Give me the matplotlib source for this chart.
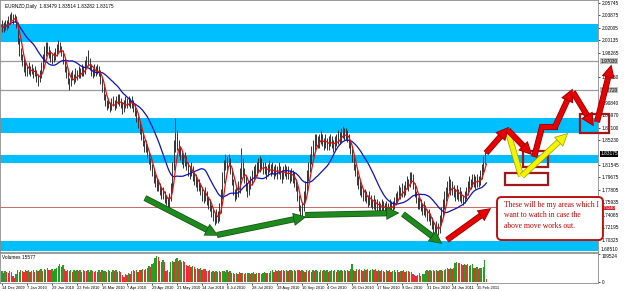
import numpy as np
import pandas as pd
import matplotlib
matplotlib.use("Agg")
import matplotlib.pyplot as plt
import matplotlib.patheffects as pe
from matplotlib.patches import Rectangle, FancyArrowPatch, FancyBboxPatch

# daily bars, EURNZD
closes = [
    2.023, 2.020, 2.026, 2.023, 2.029, 2.035, 2.038, 2.032, 2.035, 2.029,
    2.002, 1.984, 1.978, 1.969, 1.963, 1.957, 1.954, 1.960, 1.954, 1.957,
    1.951, 1.954, 1.945, 1.939, 1.948, 1.960, 1.972, 1.981, 1.987, 1.990,
    1.984, 1.978, 1.972, 1.975, 1.981, 1.987, 1.993, 1.990, 1.984, 1.972,
    1.960, 1.951, 1.942, 1.936, 1.945, 1.948, 1.942, 1.951, 1.948, 1.954,
    1.951, 1.957, 1.954, 1.963, 1.969, 1.975, 1.963, 1.954, 1.951, 1.957,
    1.954, 1.960, 1.954, 1.942, 1.930, 1.918, 1.909, 1.903, 1.906, 1.900,
    1.906, 1.909, 1.903, 1.912, 1.915, 1.909, 1.906, 1.900, 1.903, 1.909,
    1.906, 1.912, 1.906, 1.909, 1.903, 1.894, 1.885, 1.876, 1.867, 1.858,
    1.849, 1.840, 1.843, 1.831, 1.822, 1.813, 1.804, 1.798, 1.789, 1.783,
    1.786, 1.777, 1.771, 1.774, 1.765, 1.762, 1.756, 1.765, 1.780, 1.807,
    1.837, 1.858, 1.849, 1.837, 1.831, 1.822, 1.819, 1.825, 1.813, 1.807,
    1.804, 1.810, 1.798, 1.795, 1.792, 1.783, 1.786, 1.777, 1.771, 1.768,
    1.774, 1.762, 1.759, 1.753, 1.744, 1.738, 1.732, 1.741, 1.735, 1.747,
    1.768, 1.792, 1.810, 1.822, 1.816, 1.825, 1.807, 1.792, 1.777, 1.768,
    1.774, 1.777, 1.798, 1.819, 1.807, 1.795, 1.783, 1.777, 1.783, 1.789,
    1.795, 1.801, 1.804, 1.807, 1.813, 1.810, 1.816, 1.807, 1.810, 1.804,
    1.807, 1.813, 1.804, 1.810, 1.801, 1.807, 1.804, 1.810, 1.804, 1.798,
    1.804, 1.807, 1.801, 1.804, 1.798, 1.801, 1.798, 1.792, 1.783, 1.768,
    1.753, 1.744, 1.750, 1.765, 1.780, 1.795, 1.807, 1.819, 1.831, 1.840,
    1.849, 1.852, 1.846, 1.852, 1.858, 1.849, 1.846, 1.852, 1.843, 1.849,
    1.852, 1.846, 1.843, 1.849, 1.852, 1.858, 1.855, 1.861, 1.864, 1.858,
    1.861, 1.855, 1.846, 1.837, 1.825, 1.813, 1.804, 1.795, 1.786, 1.780,
    1.774, 1.768, 1.771, 1.765, 1.762, 1.768, 1.759, 1.756, 1.762, 1.753,
    1.756, 1.753, 1.750, 1.756, 1.753, 1.747, 1.753, 1.750, 1.756, 1.750,
    1.753, 1.759, 1.765, 1.768, 1.777, 1.771, 1.780, 1.774, 1.783, 1.789,
    1.786, 1.795, 1.798, 1.786, 1.774, 1.765, 1.756, 1.762, 1.753, 1.747,
    1.753, 1.744, 1.738, 1.741, 1.732, 1.726, 1.720, 1.714, 1.723, 1.717,
    1.729, 1.741, 1.753, 1.765, 1.771, 1.780, 1.789, 1.777, 1.783, 1.774,
    1.771, 1.777, 1.768, 1.774, 1.765, 1.762, 1.768, 1.774, 1.783, 1.789,
    1.786, 1.795, 1.792, 1.786, 1.792, 1.789, 1.798, 1.807, 1.819, 1.828,
    1.8318,
]
highs = [
    2.032, 2.029, 2.032, 2.032, 2.038, 2.041, 2.044, 2.041, 2.041, 2.038,
    2.029, 2.005, 1.990, 1.981, 1.975, 1.969, 1.963, 1.969, 1.963, 1.966,
    1.960, 1.963, 1.957, 1.951, 1.957, 1.969, 1.981, 1.993, 1.999, 1.999,
    1.993, 1.987, 1.981, 1.984, 1.990, 1.996, 2.002, 1.999, 1.993, 1.987,
    1.975, 1.963, 1.954, 1.945, 1.954, 1.957, 1.951, 1.960, 1.957, 1.963,
    1.960, 1.966, 1.963, 1.972, 1.978, 1.987, 1.975, 1.966, 1.960, 1.966,
    1.963, 1.966, 1.963, 1.957, 1.945, 1.933, 1.921, 1.912, 1.915, 1.909,
    1.915, 1.918, 1.912, 1.918, 1.921, 1.921, 1.915, 1.909, 1.912, 1.918,
    1.915, 1.918, 1.915, 1.918, 1.912, 1.906, 1.897, 1.888, 1.879, 1.870,
    1.861, 1.852, 1.852, 1.846, 1.834, 1.825, 1.816, 1.810, 1.801, 1.795,
    1.795, 1.789, 1.783, 1.783, 1.777, 1.771, 1.768, 1.774, 1.789, 1.819,
    1.852, 1.885, 1.867, 1.852, 1.843, 1.834, 1.831, 1.834, 1.828, 1.819,
    1.813, 1.819, 1.813, 1.804, 1.801, 1.795, 1.795, 1.789, 1.783, 1.777,
    1.783, 1.777, 1.768, 1.765, 1.756, 1.750, 1.744, 1.750, 1.747, 1.759,
    1.780, 1.804, 1.822, 1.831, 1.828, 1.831, 1.825, 1.810, 1.795, 1.780,
    1.783, 1.792, 1.810, 1.840, 1.825, 1.810, 1.798, 1.789, 1.792, 1.798,
    1.807, 1.813, 1.816, 1.819, 1.825, 1.828, 1.825, 1.819, 1.819, 1.813,
    1.816, 1.822, 1.816, 1.819, 1.813, 1.816, 1.813, 1.819, 1.813, 1.807,
    1.813, 1.816, 1.813, 1.813, 1.807, 1.810, 1.807, 1.804, 1.795, 1.786,
    1.771, 1.756, 1.759, 1.777, 1.792, 1.807, 1.819, 1.831, 1.843, 1.852,
    1.861, 1.861, 1.858, 1.861, 1.867, 1.861, 1.855, 1.861, 1.855, 1.858,
    1.861, 1.858, 1.852, 1.858, 1.861, 1.867, 1.864, 1.870, 1.873, 1.870,
    1.870, 1.867, 1.861, 1.852, 1.840, 1.828, 1.816, 1.807, 1.798, 1.792,
    1.786, 1.780, 1.780, 1.777, 1.771, 1.777, 1.771, 1.765, 1.771, 1.765,
    1.765, 1.762, 1.759, 1.765, 1.762, 1.759, 1.762, 1.759, 1.765, 1.762,
    1.762, 1.768, 1.774, 1.777, 1.786, 1.783, 1.789, 1.786, 1.792, 1.798,
    1.795, 1.804, 1.804, 1.801, 1.789, 1.777, 1.768, 1.771, 1.765, 1.759,
    1.762, 1.756, 1.750, 1.750, 1.744, 1.738, 1.732, 1.726, 1.732, 1.729,
    1.741, 1.753, 1.765, 1.777, 1.783, 1.792, 1.798, 1.795, 1.792, 1.786,
    1.780, 1.786, 1.780, 1.783, 1.777, 1.771, 1.777, 1.783, 1.792, 1.798,
    1.795, 1.801, 1.801, 1.798, 1.801, 1.798, 1.807, 1.816, 1.828, 1.837,
    1.8351,
]
lows = [
    2.014, 2.014, 2.017, 2.017, 2.020, 2.026, 2.032, 2.026, 2.029, 2.020,
    1.996, 1.978, 1.972, 1.963, 1.954, 1.948, 1.948, 1.951, 1.948, 1.951,
    1.945, 1.948, 1.939, 1.933, 1.939, 1.945, 1.957, 1.969, 1.978, 1.981,
    1.975, 1.969, 1.966, 1.969, 1.972, 1.978, 1.984, 1.984, 1.978, 1.966,
    1.954, 1.945, 1.936, 1.927, 1.933, 1.942, 1.936, 1.939, 1.942, 1.945,
    1.945, 1.948, 1.948, 1.951, 1.960, 1.963, 1.957, 1.948, 1.945, 1.948,
    1.948, 1.951, 1.948, 1.936, 1.924, 1.912, 1.903, 1.897, 1.900, 1.894,
    1.897, 1.903, 1.897, 1.900, 1.906, 1.903, 1.900, 1.891, 1.894, 1.900,
    1.900, 1.903, 1.900, 1.900, 1.894, 1.888, 1.879, 1.870, 1.861, 1.852,
    1.843, 1.834, 1.834, 1.825, 1.816, 1.807, 1.798, 1.789, 1.783, 1.777,
    1.777, 1.771, 1.765, 1.765, 1.759, 1.756, 1.750, 1.753, 1.762, 1.777,
    1.807, 1.834, 1.837, 1.828, 1.822, 1.816, 1.810, 1.813, 1.807, 1.798,
    1.795, 1.798, 1.792, 1.786, 1.783, 1.777, 1.777, 1.771, 1.762, 1.759,
    1.762, 1.756, 1.750, 1.747, 1.738, 1.732, 1.726, 1.729, 1.729, 1.732,
    1.744, 1.765, 1.789, 1.807, 1.807, 1.813, 1.801, 1.786, 1.771, 1.762,
    1.765, 1.768, 1.774, 1.795, 1.798, 1.789, 1.777, 1.768, 1.771, 1.780,
    1.786, 1.792, 1.795, 1.798, 1.804, 1.804, 1.807, 1.801, 1.801, 1.795,
    1.798, 1.804, 1.798, 1.801, 1.795, 1.798, 1.795, 1.801, 1.795, 1.789,
    1.795, 1.798, 1.795, 1.795, 1.789, 1.792, 1.789, 1.783, 1.777, 1.762,
    1.747, 1.735, 1.738, 1.747, 1.762, 1.777, 1.792, 1.804, 1.816, 1.828,
    1.837, 1.843, 1.840, 1.840, 1.846, 1.843, 1.837, 1.840, 1.837, 1.837,
    1.843, 1.840, 1.834, 1.837, 1.843, 1.846, 1.846, 1.849, 1.855, 1.852,
    1.852, 1.849, 1.840, 1.831, 1.819, 1.807, 1.798, 1.786, 1.780, 1.771,
    1.768, 1.762, 1.762, 1.759, 1.753, 1.756, 1.753, 1.750, 1.750, 1.747,
    1.747, 1.747, 1.744, 1.747, 1.747, 1.741, 1.744, 1.744, 1.747, 1.744,
    1.747, 1.750, 1.756, 1.759, 1.765, 1.765, 1.768, 1.768, 1.771, 1.780,
    1.777, 1.783, 1.789, 1.780, 1.768, 1.759, 1.750, 1.750, 1.747, 1.741,
    1.741, 1.738, 1.732, 1.732, 1.726, 1.720, 1.714, 1.708, 1.702, 1.711,
    1.714, 1.726, 1.738, 1.750, 1.762, 1.768, 1.777, 1.771, 1.771, 1.768,
    1.762, 1.765, 1.762, 1.762, 1.759, 1.756, 1.759, 1.765, 1.771, 1.780,
    1.780, 1.783, 1.783, 1.780, 1.783, 1.783, 1.786, 1.795, 1.804, 1.816,
    1.8328,
]
# tick volume, thousands
volumes_k = [
    42, 36, 44, 40, 34, 42, 38, 22, 14, 30,
    46, 40, 48, 44, 38, 46, 42, 47, 40, 44,
    46, 38, 45, 42, 48, 52, 44, 50, 46, 54,
    48, 46, 52, 44, 50, 56, 64, 70, 60, 66,
    50, 44, 46, 42, 48, 40, 46, 44, 48, 42,
    45, 40, 47, 44, 42, 48, 40, 46, 43, 38,
    44, 41, 46, 40, 45, 42, 44, 38, 46, 43,
    40, 45, 42, 46, 39, 44, 41, 28, 20, 32,
    26, 34, 30, 44, 46, 42, 48, 40, 47, 45,
    50, 46, 52, 56, 62, 58, 70, 74, 92, 100,
    96, 84, 80, 86, 78, 42, 46, 40, 78, 82,
    80, 90, 94, 84, 86, 80, 82, 78, 66, 62,
    68, 60, 64, 58, 52, 56, 50, 54, 48, 52,
    50, 44, 42, 46, 40, 44, 38, 42, 40, 44,
    38, 42, 44, 40, 45, 38, 42, 34, 36, 32,
    36, 33, 38, 34, 35, 32, 37, 34, 36, 33,
    35, 38, 32, 36, 34, 37, 33, 35, 38, 34,
    36, 34, 44, 46, 40, 48, 42, 46, 44, 48,
    45, 42, 47, 44, 46, 48, 42, 46, 44, 47,
    45, 42, 48, 44, 40, 46, 43, 47, 41, 45,
    42, 48, 44, 40, 46, 42, 47, 43, 45, 40,
    44, 48, 42, 46, 41, 45, 43, 47, 44, 48,
    42, 46, 44, 50, 72, 48, 44, 52, 46, 50,
    48, 44, 52, 46, 50, 44, 48, 52, 46, 50,
    44, 48, 42, 46, 44, 40, 46, 42, 45, 40,
    44, 46, 41, 45, 40, 44, 42, 46, 40, 44,
    42, 38, 40, 30, 26, 22, 28, 34, 24, 30,
    32, 44, 46, 42, 48, 44, 46, 42, 47, 44,
    46, 48, 44, 46, 50, 54, 52, 56, 50, 54,
    76, 78, 74, 76, 70, 66, 72, 68, 70, 64,
    66, 70, 56, 54, 58, 52, 56, 54, 60, 86,
    10,
]

date_labels = ["14 Dec 2009", "7 Jan 2010", "29 Jan 2010", "22 Feb 2010",
               "16 Mar 2010", "7 Apr 2010", "29 Apr 2010", "21 May 2010",
               "14 Jun 2010", "6 Jul 2010", "28 Jul 2010", "19 Aug 2010",
               "10 Sep 2010", "4 Oct 2010", "26 Oct 2010", "17 Nov 2010",
               "9 Dec 2010", "31 Dec 2010", "24 Jan 2011", "15 Feb 2011"]
price_ticks = [2.05745, 2.03875, 2.02005, 2.00135, 1.98265, 1.94680, 1.90840,
               1.88970, 1.87100, 1.85230, 1.81545, 1.79675, 1.77805, 1.75935,
               1.74065, 1.72195, 1.70325]
price_floor = 1.68510
zones = [(1.9991, 2.0260), (1.8630, 1.8855), (1.8182, 1.8301), (1.6866, 1.7015)]
gray_levels = [1.97030, 1.92720]
red_level = 1.75240
last_price = 1.83175
vol_max = 109524

n = len(closes)
x = np.arange(n)
volumes = np.array(volumes_k) * 1000
ma_fast = pd.Series(closes).rolling(5, min_periods=1).mean()
ma_slow = pd.Series(closes).rolling(21, min_periods=1).mean()

W, H = 625, 291
LAB = dict(fontsize=3.4, family="Liberation Sans")
fig = plt.figure(figsize=(W / 100, H / 100), dpi=100)
ax = fig.add_axes([0, 1 - 252 / H, 598 / W, 252 / H])
vax = fig.add_axes([0, 1 - 283 / H, 598 / W, 30 / H])

x0, x1 = -2 / 1.5625, 596 / 1.5625
ax.set_xlim(x0, x1)
ax.set_ylim(price_floor, 2.0619)

for lo, hi in zones:
    ax.axhspan(lo, hi, color="#00bfff", lw=0, zorder=1)
for lvl in gray_levels:
    ax.axhline(lvl, color="#9a9a9a", lw=0.9, zorder=1.5)
ax.axhline(red_level, color="#c05050", lw=0.6, zorder=1.5)

ax.vlines(x, lows, highs, color="#333333", lw=0.7, zorder=2)
ax.plot(x, ma_slow, color="#1010c0", lw=0.9, zorder=3)
ax.plot(x, ma_fast, color="#e01010", lw=0.9, zorder=3.5)

ax.yaxis.tick_right()
ax.set_yticks(price_ticks)
ax.set_yticklabels([f"{v:.5f}" for v in price_ticks], **LAB)
ax.tick_params(axis="y", length=1.5, pad=1, width=0.5)
ax.set_xticks([])
for s in ax.spines.values():
    s.set_color("#8a8a8a")
    s.set_linewidth(0.6)

ytr = ax.get_yaxis_transform()
ax.text(1.004, price_floor, f"{price_floor:.5f}", transform=ytr, va="bottom",
        ha="left", **LAB)
for lvl in gray_levels:
    ax.text(1.004, lvl, f"{lvl:.5f}", transform=ytr, va="center",
            ha="left", color="black",
            bbox=dict(boxstyle="square,pad=0.1", fc="#bdbdbd", ec="none"), **LAB)
ax.text(1.004, last_price, f"{last_price:.5f}", transform=ytr,
        va="center", ha="left", color="white",
        bbox=dict(boxstyle="square,pad=0.1", fc="black", ec="none"), **LAB)
ax.text(1.004, red_level - 0.0016, f"{red_level:.5f}", transform=ytr,
        va="center", ha="left", color="white", fontsize=3.0,
        family="Liberation Sans",
        bbox=dict(boxstyle="square,pad=0.05", fc="#d02020", ec="none"))

ax.text(0.008, 0.985, "EURNZD,Daily  1.83479 1.83514 1.83282 1.83175",
        transform=ax.transAxes, va="top", ha="left", **LAB)

# volume panel
vcol = ["#22a022"] + ["#22a022" if volumes[i] >= volumes[i - 1] else "#e83030"
                      for i in range(1, n)]
vax.bar(x, volumes, width=0.85, color=vcol, lw=0)
vax.set_xlim(x0, x1)
vax.set_ylim(-3911, 113420)
vax.yaxis.tick_right()
vax.set_yticks([0, vol_max])
vax.set_yticklabels(["0", str(vol_max)], **LAB)
vax.get_yticklabels()[1].set_va("top")
vax.tick_params(axis="y", length=1.5, pad=1, width=0.5)
vax.set_xticks(np.arange(len(date_labels)) * 16)
vax.set_xticklabels(date_labels, fontsize=2.9, family="Liberation Sans")
for lab in vax.get_xticklabels():
    lab.set_ha("left")
vax.tick_params(axis="x", length=1.5, pad=1, width=0.5)
for s in vax.spines.values():
    s.set_color("#8a8a8a")
    s.set_linewidth(0.6)
vax.text(0.004, 0.93, "Volumes 15577", transform=vax.transAxes,
         va="top", ha="left", **LAB)


# hand drawn markup, in (bar, price) coordinates
def arrow(p0, p1, color, edge, lw=3.4, head=True):
    a = FancyArrowPatch(p0, p1, arrowstyle="-|>" if head else "-",
                        mutation_scale=6, lw=lw, color=color,
                        shrinkA=0, shrinkB=0, zorder=6, clip_on=False,
                        joinstyle="miter", capstyle="butt")
    a.set_path_effects([pe.Stroke(linewidth=lw + 1.0, foreground=edge), pe.Normal()])
    ax.add_patch(a)


GREEN, GREEN_E = "#1e8a1e", "#0f500f"
arrow((91.5, 1.7658), (137.6, 1.7105), GREEN, GREEN_E)
arrow((137.6, 1.7105), (193.9, 1.7374), GREEN, GREEN_E)
arrow((193.9, 1.7404), (253.4, 1.7434), GREEN, GREEN_E)
arrow((256.6, 1.7419), (281.0, 1.6986), GREEN, GREEN_E)

for r in [(321.9, 1.7853, 27.5, 0.0179), (333.4, 1.8122, 16.0, 0.0239),
          (369.9, 1.8630, 18.6, 0.0284)]:
    ax.add_patch(Rectangle((r[0], r[1]), r[2], r[3], fill=False, ec="#a01818",
                           lw=1.6, zorder=5, clip_on=False))

YEL, YEL_E = "#f4f400", "#9a9a00"
arrow((323.8, 1.8645), (332.2, 1.7987), YEL, YEL_E, head=False)
arrow((332.8, 1.7987), (361.6, 1.8615), YEL, YEL_E)

RED, RED_E = "#e80000", "#8a0000"
arrow((309.8, 1.8331), (323.8, 1.8705), RED, RED_E)
arrow((323.8, 1.8675), (338.6, 1.8316), RED, RED_E)
ax.plot([341.1, 345.6, 353.9], [1.8316, 1.8720, 1.8720], color=RED, lw=3.4,
        zorder=6, clip_on=False, solid_joinstyle="miter",
        path_effects=[pe.Stroke(linewidth=4.4, foreground=RED_E), pe.Normal()])
arrow((353.9, 1.8720), (364.8, 1.9273), RED, RED_E)
arrow((365.4, 1.9243), (378.2, 1.8750), RED, RED_E)
arrow((380.8, 1.8795), (389.8, 1.9632), RED, RED_E)
arrow((284.8, 1.7031), (312.3, 1.7494), RED, RED_E)

box = FancyBboxPatch((316.8, 1.7030), 67.8, 0.0643,
                     boxstyle="round,pad=0,rounding_size=3",
                     mutation_aspect=0.002336, fc="white", ec="#c01010",
                     lw=1.4, zorder=7, clip_on=False)
ax.add_patch(box)
ax.text(321.4, 1.7620, "These will be my areas which I\nwant to watch in case the\nabove move works out.",
        fontsize=5.5, family="Liberation Serif", color="#c00000", va="top",
        ha="left", linespacing=1.45, zorder=8, clip_on=False)

fig.savefig("out.png", dpi=100)
